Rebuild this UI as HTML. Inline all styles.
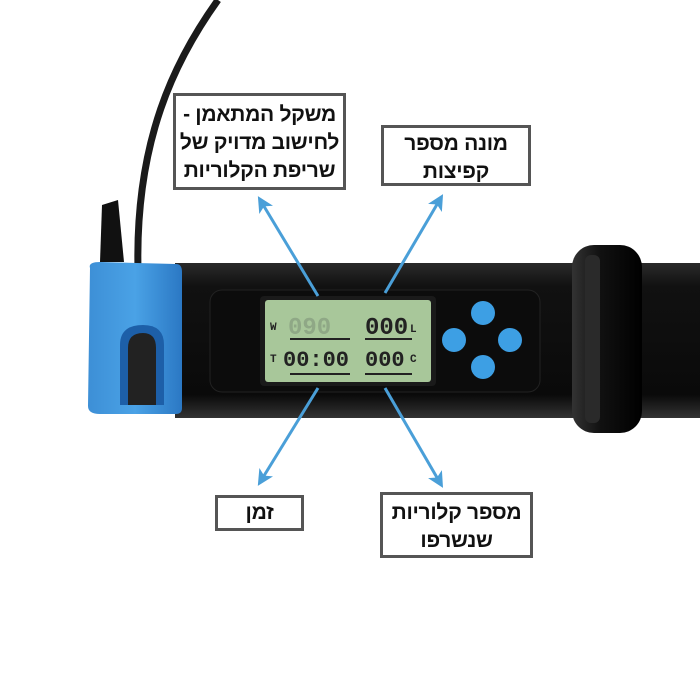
<!DOCTYPE html>
<html><head><meta charset="utf-8"><style>
body{margin:0;width:700px;height:700px;background:#fff;overflow:hidden;position:relative;font-family:"Liberation Sans","Noto Sans CJK SC",sans-serif}
.box{position:absolute;border:3px solid #555;background:#fff;color:#111;font-weight:bold;font-size:21px;line-height:28px;text-align:center;direction:rtl;box-sizing:border-box;white-space:nowrap;letter-spacing:-0.3px}
</style></head><body>
<svg width="700" height="700" style="position:absolute;left:0;top:0">
<defs>
<linearGradient id="tube" x1="0" y1="0" x2="0" y2="1"><stop offset="0" stop-color="#2a2a2a"/><stop offset="0.15" stop-color="#111"/><stop offset="0.85" stop-color="#0a0a0a"/><stop offset="1" stop-color="#333"/></linearGradient>
<linearGradient id="ring" x1="0" y1="0" x2="1" y2="0"><stop offset="0" stop-color="#333"/><stop offset="0.4" stop-color="#111"/><stop offset="1" stop-color="#000"/></linearGradient>
<linearGradient id="blue" x1="0" y1="0" x2="1" y2="0"><stop offset="0" stop-color="#3d8fd6"/><stop offset="0.5" stop-color="#4aa2e6"/><stop offset="1" stop-color="#2b78c4"/></linearGradient>
<marker id="ah" markerWidth="16" markerHeight="16" refX="8" refY="8" orient="auto" markerUnits="userSpaceOnUse"><path d="M0,0 L16,8 L0,16 L4,8 Z" fill="#4a9fd8"/></marker>
</defs>
<path d="M218,0 C175,60 135,140 138,270" stroke="#1a1a1a" stroke-width="7" fill="none"/>
<path d="M102,205 L118,200 L124,262 L100,262 Z" fill="#111"/>
<rect x="175" y="263" width="530" height="155" fill="url(#tube)"/>
<rect x="572" y="245" width="70" height="188" rx="22" fill="url(#ring)"/>
<rect x="585" y="255" width="15" height="168" rx="6" fill="#2a2a2a"/>
<path d="M90,268 Q88,262 100,262 L176,264 Q182,264 182,272 L182,408 Q182,414 176,414 L100,414 Q88,414 88,406 Z" fill="url(#blue)"/>
<path d="M120,405 L120,345 Q120,325 143,325 Q164,325 164,345 L164,405 Z" fill="#1d5fa8"/>
<path d="M128,405 L128,348 Q128,333 143,333 Q156,333 156,348 L156,405 Z" fill="#222"/>
<rect x="210" y="290" width="330" height="102" rx="12" fill="#0c0c0c" stroke="#222"/>
<rect x="260" y="296" width="176" height="90" rx="4" fill="#1a1a1a"/>
<rect x="265" y="300" width="166" height="82" rx="3" fill="#a8c79a"/>
<g font-family="Liberation Mono,monospace" fill="#222" font-weight="bold">
<text x="270" y="330" font-size="11">W</text>
<text x="288" y="334" font-size="24" fill="#8fa886">090</text>
<text x="365" y="334" font-size="24">000</text><text x="410" y="332" font-size="11">L</text>
<text x="270" y="362" font-size="11">T</text>
<text x="283" y="366" font-size="22">00:00</text>
<text x="365" y="366" font-size="22">000</text><text x="410" y="362" font-size="11">C</text>
</g>
<line x1="290" y1="339" x2="350" y2="339" stroke="#222" stroke-width="2"/>
<line x1="365" y1="339" x2="412" y2="339" stroke="#222" stroke-width="2"/>
<line x1="290" y1="374" x2="350" y2="374" stroke="#222" stroke-width="2"/>
<line x1="365" y1="374" x2="412" y2="374" stroke="#222" stroke-width="2"/>
<g fill="#3d9fe4"><circle cx="483" cy="313" r="12"/><circle cx="454" cy="340" r="12"/><circle cx="510" cy="340" r="12"/><circle cx="483" cy="367" r="12"/></g>
<g stroke="#4a9fd8" stroke-width="3" marker-end="url(#ah)">
<line x1="318" y1="296" x2="262" y2="203"/>
<line x1="385" y1="293" x2="439" y2="201"/>
<line x1="318" y1="388" x2="262" y2="479"/>
<line x1="385" y1="388" x2="439" y2="481"/>
</g>
</svg>
<div class="box" style="left:173px;top:93px;width:173px;height:97px;padding-top:5px">משקל המתאמן -<br>לחישוב מדויק של<br>שריפת הקלוריות</div>
<div class="box" style="left:381px;top:125px;width:150px;height:61px;padding-top:2px">מונה מספר<br>קפיצות</div>
<div class="box" style="left:215px;top:495px;width:89px;height:36px;padding-top:1px">זמן</div>
<div class="box" style="left:380px;top:492px;width:153px;height:66px;padding-top:4px">מספר קלוריות<br>שנשרפו</div>
</body></html>
